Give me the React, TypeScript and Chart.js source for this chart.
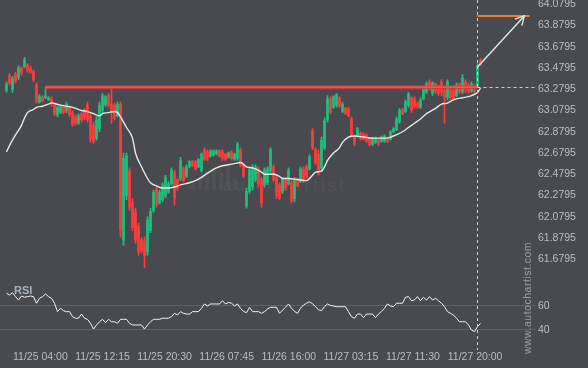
import React, { useEffect, useRef } from 'react';
import { Chart, registerables } from 'chart.js';
Chart.register(...registerables);

// ---- data (15-min candles, index = bar number) ----
const opens = [63.26,63.40,63.27,63.41,63.38,63.47,63.48,63.50,63.47,63.44,63.31,63.15,63.20,63.19,63.17,63.19,63.12,63.03,63.05,63.10,
63.07,63.10,63.05,63.01,62.95,63.04,63.07,63.12,63.02,62.93,62.81,62.90,63.07,63.12,63.21,63.13,63.12,63.02,63.13,61.85,
62.27,62.50,62.21,62.11,61.98,61.85,61.84,61.74,61.94,62.13,62.33,62.20,62.23,62.27,62.30,62.38,62.49,62.42,62.43,62.52,
62.45,62.54,62.59,62.59,62.54,62.50,62.70,62.68,62.64,62.65,62.66,62.69,62.68,62.66,62.63,62.68,62.61,62.62,62.70,62.56,
62.17,62.31,62.35,62.42,62.52,62.42,62.37,62.39,62.50,62.54,62.44,62.37,62.31,62.43,62.38,62.39,62.24,62.42,62.40,62.52,
62.54,62.52,62.88,62.70,62.66,62.53,62.72,62.98,63.18,63.10,63.12,63.19,63.06,63.09,63.08,62.99,62.83,62.83,62.86,62.85,
62.84,62.80,62.75,62.77,62.80,62.78,62.78,62.81,62.80,62.87,62.89,62.96,63.08,63.06,63.12,63.19,63.18,63.14,63.10,63.18,
63.24,63.34,63.23,63.32,63.29,63.34,63.26,63.19,63.27,63.26,63.21,63.32,63.25,63.34,63.31,63.25,63.30,63.30,63.54];
const highs = [63.34,63.42,63.39,63.43,63.49,63.48,63.57,63.51,63.49,63.45,63.33,63.22,63.21,63.29,63.20,63.20,63.13,63.11,63.12,63.11,
63.15,63.11,63.07,63.03,63.04,63.05,63.09,63.15,63.05,62.96,63.01,63.15,63.23,63.21,63.23,63.29,63.14,63.15,63.15,62.67,
62.67,62.53,62.24,62.15,62.01,61.87,61.88,62.07,62.15,62.32,62.35,62.32,62.39,62.46,62.40,62.53,62.51,62.43,62.63,62.54,
62.56,62.60,62.60,62.60,62.62,62.67,62.72,62.70,62.70,62.70,62.70,62.70,62.70,62.67,62.68,62.69,62.67,62.77,62.72,62.57,
62.34,62.53,62.56,62.56,62.54,62.44,62.53,62.54,62.72,62.56,62.46,62.39,62.44,62.44,62.53,62.41,62.44,62.43,62.54,62.54,
62.56,62.65,62.90,62.72,62.70,62.82,63.00,63.21,63.20,63.21,63.23,63.20,63.15,63.10,63.10,63.01,62.84,62.91,62.87,62.86,
62.85,62.81,62.82,62.82,62.81,62.83,62.84,62.82,62.88,62.91,63.01,63.09,63.09,63.17,63.24,63.20,63.20,63.15,63.19,63.29,
63.34,63.36,63.34,63.33,63.31,63.36,63.29,63.36,63.29,63.28,63.33,63.33,63.41,63.36,63.33,63.34,63.32,63.51,63.56];
const lows = [63.24,63.31,63.24,63.33,63.36,63.40,63.47,63.43,63.42,63.34,63.14,63.14,63.15,63.18,63.16,63.11,63.02,63.01,63.04,63.04,
63.05,63.01,62.92,62.93,62.94,62.96,62.98,62.96,62.77,62.76,62.79,62.87,63.04,63.11,63.10,62.95,62.98,63.01,61.88,61.80,
62.23,62.13,61.94,61.82,61.71,61.73,61.59,61.71,61.92,62.11,62.16,62.19,62.21,62.25,62.29,62.37,62.18,62.32,62.41,62.40,
62.44,62.53,62.54,62.51,62.53,62.49,62.60,62.60,62.63,62.64,62.65,62.63,62.60,62.60,62.62,62.60,62.60,62.60,62.54,62.44,
62.15,62.29,62.32,62.40,62.35,62.16,62.35,62.37,62.48,62.40,62.24,62.23,62.29,62.32,62.37,62.20,62.21,62.35,62.39,62.39,
62.43,62.51,62.70,62.56,62.46,62.51,62.70,62.96,63.04,63.09,63.10,63.10,63.05,63.03,63.01,62.82,62.74,62.82,62.79,62.79,
62.77,62.74,62.74,62.76,62.74,62.77,62.77,62.77,62.79,62.86,62.88,62.95,63.03,63.05,63.10,63.05,63.09,63.09,63.09,63.17,
63.23,63.26,63.21,63.23,63.21,63.21,62.95,63.17,63.17,63.17,63.20,63.23,63.23,63.24,63.23,63.24,63.23,63.29,63.49];
const closes = [63.32,63.33,63.37,63.35,63.47,63.42,63.55,63.45,63.43,63.36,63.16,63.20,63.16,63.21,63.19,63.13,63.04,63.10,63.11,63.05,
63.13,63.03,62.94,62.95,63.02,62.98,63.00,62.98,62.80,62.78,62.98,63.12,63.21,63.20,63.12,63.06,63.00,63.13,61.94,62.62,
62.64,62.16,61.97,61.85,61.74,61.75,61.70,62.04,62.12,62.30,62.18,62.30,62.37,62.44,62.38,62.51,62.25,62.34,62.60,62.41,
62.54,62.59,62.55,62.52,62.61,62.66,62.61,62.62,62.69,62.69,62.69,62.64,62.62,62.61,62.67,62.62,62.66,62.75,62.56,62.46,
62.31,62.51,62.53,62.54,62.38,62.20,62.51,62.52,62.70,62.42,62.27,62.25,62.43,62.34,62.51,62.22,62.42,62.36,62.52,62.41,
62.45,62.63,62.72,62.58,62.48,62.79,62.97,63.18,63.06,63.20,63.22,63.11,63.13,63.04,63.02,62.84,62.76,62.90,62.80,62.80,
62.78,62.75,62.81,62.81,62.76,62.82,62.83,62.78,62.87,62.90,62.99,63.07,63.04,63.15,63.23,63.07,63.11,63.10,63.17,63.27,
63.32,63.27,63.33,63.25,63.23,63.24,63.19,63.34,63.19,63.18,63.31,63.25,63.38,63.26,63.25,63.32,63.25,63.49,63.50];

// moving average (bar index, value)
const maIdx = [0,1,3,5,6,7,9,10,12,14,15,18,20,22,24,25,27,29,31,32,34,36,37,38,40,42,43,45,47,48,50,52,54,56,58,61,63,65,67,70,
72,74,76,78,80,82,83,85,86,89,91,92,94,97,100,102,103,105,106,107,109,111,112,114,116,119,122,127,129,132,134,136,138,140,143,145,147,149,152,154,155,157,158];
const maVal = [62.68,62.74,62.84,62.93,63.00,63.05,63.08,63.10,63.11,63.13,63.14,63.12,63.11,63.10,63.08,63.07,63.06,63.04,63.02,63.04,
63.05,63.06,63.05,63.01,62.91,62.81,62.67,62.54,62.43,62.39,62.36,62.34,62.34,62.35,62.37,62.39,62.41,62.44,62.48,62.53,
62.55,62.56,62.57,62.58,62.54,62.53,62.52,62.49,62.47,62.47,62.45,62.43,62.43,62.42,62.41,62.46,62.49,62.50,62.54,62.60,
62.67,62.72,62.77,62.82,62.83,62.82,62.81,62.81,62.83,62.87,62.91,62.95,62.99,63.04,63.09,63.13,63.14,63.17,63.19,63.20,63.21,63.24,63.28];

// RSI per bar
const rsi = [70.6,69.2,71.1,67.8,65.0,68.3,67.3,67.8,68.3,67.8,
62.3,66.4,67.8,70.0,67.8,66.4,62.3,55.3,58.1,56.1,
55.3,55.3,51.1,49.8,49.8,53.3,49.8,48.9,45.6,40.8,
44.2,46.9,48.9,46.1,48.9,46.9,46.9,45.6,48.9,48.9,
48.9,45.6,44.2,44.2,44.2,44.2,40.8,44.2,46.9,48.9,
48.9,48.9,49.8,49.8,49.8,51.1,53.9,52.5,55.3,53.9,
53.3,53.3,55.3,55.3,55.3,58.1,61.7,60.0,61.7,61.7,
61.7,61.7,64.4,61.7,63.0,62.3,60.0,61.7,58.0,55.5,
54.4,58.9,55.3,55.3,55.3,53.9,55.3,57.5,58.9,58.9,
58.9,53.9,56.5,59.0,61.7,58.1,55.5,53.9,58.1,60.8,
62.3,63.5,62.0,59.4,57.0,56.1,59.4,61.7,60.5,60.0,
59.4,59.4,59.4,59.4,55.3,51.1,49.8,53.3,53.3,50.3,
53.3,53.3,53.3,50.3,53.3,55.5,58.1,61.7,60.0,59.4,
62.3,62.3,62.3,67.3,67.8,64.4,65.0,67.8,64.4,67.3,
65.0,67.8,65.0,66.4,64.4,62.3,59.4,55.3,53.9,52.5,
49.8,46.9,46.9,46.9,44.2,40.0,38.6,42.8,45.5];

const priceTicks = [61.6795,61.8795,62.0795,62.2795,62.4795,62.6795,62.8795,63.0795,63.2795,63.4795,63.6795,63.8795,64.0795];
const rsiTicks = [40, 60];
const xTickLabels = ['11/25 04:00','11/25 12:15','11/25 20:30','11/26 07:45','11/26 16:00','11/27 03:15','11/27 11:30','11/27 20:00'];
const xTickPos = [11.3, 32.0, 52.7, 73.4, 94.1, 114.8, 135.5, 156.2];

// pattern / forecast
const supportLevel = 63.29;
const supportStartIdx = 13;
const currentIdx = 157;
const arrowStartPrice = 63.48;
const arrowEndIdx = 172.6;
const targetLevel = 63.96;
const targetEndIdx = 174.3;

// ---- style ----
const BG = '#484a4f';
const GREEN = '#1fbf7c';
const RED = '#ff3c3c';
const LABEL = '#bdbdbd';
const FONT = '"Liberation Sans", Arial, sans-serif';

const overlay = {
  id: 'overlay',
  beforeDatasetsDraw(chart: any) {
    const { ctx, chartArea } = chart;
    ctx.save();
    ctx.fillStyle = 'rgba(255,255,255,0.04)';
    const hs = [8, 13, 18, 22, 18, 24, 12];
    hs.forEach((h, k) => {
      ctx.fillRect(chartArea.left + 191 + k * 7, 190 - h, 4, h);
    });
    ctx.fillStyle = 'rgba(255,255,255,0.055)';
    ctx.font = '17px ' + FONT;
    (ctx as any).letterSpacing = '3px';
    ctx.textBaseline = 'alphabetic';
    ctx.fillText('autochartist', chartArea.left + 223, 191);
    ctx.restore();
  },
  afterDatasetsDraw(chart: any) {
    const { ctx, chartArea, scales } = chart;
    const x = scales.x, y = scales.y;
    ctx.save();
    const ys = y.getPixelForValue(supportLevel);
    const xs0 = x.getPixelForValue(supportStartIdx);
    const xc = x.getPixelForValue(currentIdx);
    ctx.strokeStyle = 'rgba(214,58,58,0.85)';
    ctx.lineWidth = 4;
    ctx.beginPath(); ctx.moveTo(xs0, ys); ctx.lineTo(xc, ys); ctx.stroke();
    ctx.strokeStyle = 'rgba(255,100,100,0.9)';
    ctx.lineWidth = 1.2;
    ctx.beginPath(); ctx.moveTo(xs0, ys); ctx.lineTo(xc, ys); ctx.stroke();
    ctx.setLineDash([3, 3]);
    ctx.strokeStyle = '#cfcfcf';
    ctx.lineWidth = 1;
    ctx.beginPath(); ctx.moveTo(Math.round(xc) + 0.5, chartArea.top); ctx.lineTo(Math.round(xc) + 0.5, chartArea.bottom + 8); ctx.stroke();
    ctx.beginPath(); ctx.moveTo(xc, Math.round(ys) + 0.5); ctx.lineTo(chartArea.right, Math.round(ys) + 0.5); ctx.stroke();
    ctx.setLineDash([]);
    const yt = y.getPixelForValue(targetLevel);
    ctx.strokeStyle = '#f47c30';
    ctx.lineWidth = 2;
    ctx.beginPath(); ctx.moveTo(xc, yt); ctx.lineTo(x.getPixelForValue(targetEndIdx), yt); ctx.stroke();
    const ax0 = xc, ay0 = y.getPixelForValue(arrowStartPrice);
    const ax1 = x.getPixelForValue(arrowEndIdx), ay1 = yt;
    ctx.strokeStyle = '#e6e6e6';
    ctx.lineWidth = 1.4;
    ctx.beginPath(); ctx.moveTo(ax0, ay0); ctx.lineTo(ax1, ay1); ctx.stroke();
    const ang = Math.atan2(ay1 - ay0, ax1 - ax0);
    const L = 10;
    ctx.beginPath();
    ctx.moveTo(ax1 - L * Math.cos(ang - 0.5), ay1 - L * Math.sin(ang - 0.5));
    ctx.lineTo(ax1, ay1);
    ctx.lineTo(ax1 - L * Math.cos(ang + 0.5), ay1 - L * Math.sin(ang + 0.5));
    ctx.stroke();
    ctx.restore();
  },
  afterDraw(chart: any) {
    const { ctx, scales } = chart;
    const r = scales.rsi;
    ctx.save();
    ctx.fillStyle = '#aab0bd';
    ctx.font = 'bold 11px ' + FONT;
    ctx.textBaseline = 'middle';
    ctx.fillText('RSI', 14, r.top + 19);
    ctx.translate(528, r.top + 26);
    ctx.rotate(-Math.PI / 2);
    ctx.fillStyle = '#9e9e9e';
    ctx.font = '10.5px ' + FONT;
    ctx.textAlign = 'center';
    (ctx as any).letterSpacing = '0.5px';
    ctx.fillText('www.autochartist.com', 0, 0);
    ctx.restore();
  },
};

export default function App() {
  const ref = useRef<HTMLCanvasElement>(null);
  useEffect(() => {
    document.body.style.margin = '0';
    document.body.style.background = BG;
    const idx = opens.map((_, i) => i);
    const colors = opens.map((o, i) => (closes[i] >= o ? GREEN : RED));
    const tickFont = { family: FONT, size: 10.5 };
    const chart = new Chart(ref.current as HTMLCanvasElement, {
      type: 'bar',
      data: {
        datasets: [
          { type: 'bar', data: idx.map(i => ({ x: i, y: [lows[i], highs[i]] })) as any, backgroundColor: colors, barThickness: 1, grouped: false, yAxisID: 'y', order: 3 } as any,
          { type: 'bar', data: idx.map(i => ({ x: i, y: [opens[i], closes[i]] })) as any, backgroundColor: colors, barThickness: 2, minBarLength: 1, grouped: false, yAxisID: 'y', order: 2 } as any,
          { type: 'line', data: maIdx.map((v, k) => ({ x: v, y: maVal[k] })), borderColor: '#e8e8e8', borderWidth: 1.4, pointRadius: 0, cubicInterpolationMode: 'monotone', yAxisID: 'y', order: 1 } as any,
          { type: 'line', data: rsi.map((v, i) => ({ x: i, y: v })), borderColor: '#f4f4f4', borderWidth: 1, pointRadius: 0, tension: 0, yAxisID: 'rsi', order: 0 } as any,
        ],
      },
      options: {
        animation: false,
        responsive: true,
        maintainAspectRatio: false,
        events: [],
        layout: { padding: 0, autoPadding: false } as any,
        plugins: { legend: { display: false }, tooltip: { enabled: false } },
        scales: {
          x: {
            type: 'linear', min: -2.1667, max: 176.1667, offset: false,
            grid: { display: false, drawTicks: false }, border: { display: false },
            afterBuildTicks: (s: any) => { s.ticks = xTickPos.map(v => ({ value: v })); },
            afterFit: (s: any) => { s.height = 26; s.paddingLeft = 0; s.paddingRight = 0; },
            ticks: { autoSkip: false, maxRotation: 0, minRotation: 0, padding: 9, color: LABEL, font: tickFont, callback: (_v: any, i: number) => xTickLabels[i] },
          },
          y: {
            type: 'linear', position: 'right', stack: 'panes', stackWeight: 272, weight: 0, min: 61.55, max: 64.11,
            grid: { display: false, drawTicks: false }, border: { display: false },
            afterBuildTicks: (s: any) => { s.ticks = priceTicks.map(v => ({ value: v })); },
            afterFit: (s: any) => { s.width = 53; s.paddingTop = 0; s.paddingBottom = 0; },
            ticks: { autoSkip: false, padding: 3, labelOffset: 1, color: LABEL, font: tickFont, callback: (v: any) => Number(v).toFixed(4) },
          },
          rsi: {
            type: 'linear', position: 'right', stack: 'panes', stackWeight: 70, weight: 1, min: 30, max: 88.33,
            grid: { color: '#5f6360', lineWidth: 1, drawTicks: false }, border: { display: false },
            afterBuildTicks: (s: any) => { s.ticks = rsiTicks.map(v => ({ value: v })); },
            afterFit: (s: any) => { s.width = 53; s.paddingTop = 0; s.paddingBottom = 0; },
            ticks: { autoSkip: false, padding: 3, color: LABEL, font: tickFont },
          },
        } as any,
      },
      plugins: [overlay as any],
    });
    return () => chart.destroy();
  }, []);
  return (
    <div style={{ width: 588, height: 368, position: 'relative', background: BG }}>
      <canvas ref={ref} style={{ display: 'block' }} />
    </div>
  );
}
